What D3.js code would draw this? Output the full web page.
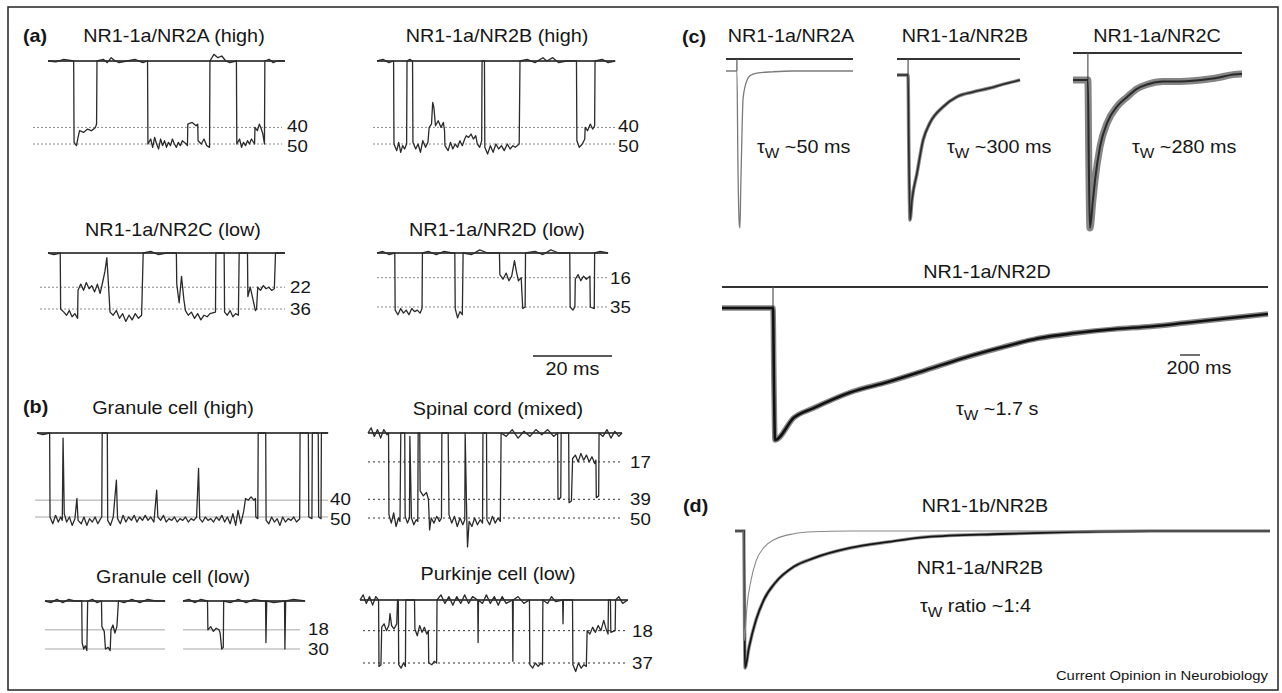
<!DOCTYPE html>
<html>
<head>
<meta charset="utf-8">
<script src="https://cdn.jsdelivr.net/npm/d3@7"></script>
<style>
  body { margin: 0; background: #fff; }
  text { font-family: "Liberation Sans", Arial, sans-serif; fill: #161616; }
</style>
</head>
<body>
<svg id="fig" width="1282" height="693"></svg>
<script>
// ---- single-channel records: [time ms, current pA] (openings drawn downward)
var aNR2A = [[0,0],[2,0.5],[4,-1],[6.5,0],[6.6,49],[7.2,51],[7.6,46],[8,42],[9,43],[10,41],[11,42],[12,40],[12.3,38],[12.4,0],[14,-1],[15,1],[16,-2],[17,0],[18,1],[20,0],[22,-1],[24,1],[25.2,0],[25.3,50],[26,47],[26.5,52],[27,46],[27.5,50],[28,53],[28.5,47],[29,51],[29.5,48],[30,52],[30.5,49],[31,51],[31.5,47],[32,50],[32.5,52],[33,49],[33.5,51],[34,48],[35,50],[35.3,51],[35.4,38],[36.5,37],[37.5,39],[37.9,38],[38,48],[38.8,50],[39.5,47],[40.2,51],[40.9,52],[41,0],[42,-4],[43,-2],[44,-3],[45,0],[46,1],[47.7,0],[47.8,50],[48.5,47],[49,52],[49.5,49],[50,51],[50.5,48],[51,50],[51.5,47],[52.3,50],[52.4,40],[53,42],[53.5,38],[54,41],[54.4,44],[54.8,50],[54.9,0],[56,-1],[57,1],[58,0],[60,0]];
var aNR2B = [[0,0],[1.5,-1],[3,1],[4.2,0],[4.3,50],[5,54],[5.5,49],[6,55],[6.5,51],[7,53],[7.5,50],[7.6,0],[8.3,-1],[9,0],[9.1,49],[9.8,53],[10.4,50],[11,55],[11.6,48],[12.3,52],[12.9,49],[13.2,40],[13.8,38],[14.1,25],[14.4,28],[14.8,39],[15.5,36],[16.2,40],[16.8,37],[17.1,42],[17.2,51],[18,54],[18.6,49],[19.2,53],[19.8,50],[20.4,52],[21,48],[21.6,51],[22.2,47],[22.6,45],[23.2,46],[23.8,44],[24.4,47],[25,45],[25.4,50],[26,52],[26.5,48],[26.6,0],[27.2,0],[27.3,52],[28,56],[28.7,51],[29.4,55],[30.1,50],[30.8,53],[31.5,51],[32.2,54],[33,50],[33.7,53],[34.4,51],[35,52],[36,50],[36.2,0],[38,-1],[40,1],[42,-2],[43,0],[44.5,-2],[46,1],[48,0],[50.5,0],[50.6,48],[51.2,52],[52,50],[52.6,47],[52.7,40],[53.3,42],[54,38],[54.6,41],[55.1,39],[55.2,0],[57,-1],[58.5,1],[60.3,0]];
var aNR2C = [[0,0],[1.5,1],[3.1,0],[3.2,36],[4,38],[4.7,40],[5.4,37],[6.1,41],[6.8,39],[7.5,42],[7.6,24],[8.3,20],[9,24],[9.7,19],[10.4,23],[11.1,21],[11.8,25],[12.5,20],[13.2,26],[13.9,18],[14.4,12],[14.9,3],[15.3,20],[15.7,38],[16.5,40],[17.3,37],[18.1,42],[18.9,39],[19.7,44],[20.5,40],[21.3,43],[22.1,39],[22.9,42],[23.7,40],[24.1,0],[26,-1],[28,1],[30,0],[32.5,0],[32.6,20],[33.2,32],[33.8,15],[34.4,30],[34.8,37],[35.5,40],[36.3,38],[37.1,42],[37.9,39],[38.7,43],[39.5,40],[40.3,41],[41,39],[42.4,38],[42.5,0],[44.6,0],[44.7,38],[45.4,40],[46.1,37],[46.8,41],[47.5,39],[48.2,40],[48.4,0],[50.5,0],[50.6,28],[51.2,22],[51.9,30],[52.5,37],[52.8,36],[53.1,22],[53.8,24],[54.5,21],[55.2,23],[55.9,22],[56.6,24],[57.3,23],[57.6,0],[60,0]];
var aNR2D = [[0,0],[1.5,-1],[3,1],[4.5,0],[4.6,37],[5.3,40],[6,36],[6.7,39],[7.4,37],[8.1,40],[8.8,36],[9.5,38],[10.2,37],[10.9,39],[11.4,36],[11.5,0],[13,-1],[15,1],[17,-1],[19,0],[19.7,0],[19.8,36],[20.4,42],[21,38],[21.6,40],[21.8,0],[24,1],[26,-2],[28,0],[31,0],[31.1,14],[31.9,17],[32.7,13],[33.4,18],[34.1,15],[34.8,5],[35.3,12],[35.8,18],[36.5,16],[36.9,36],[37.5,35],[37.6,0],[40,-1],[42,1],[44,-2],[46,0],[48.8,0],[48.9,35],[49.6,37],[50.1,35],[50.2,17],[50.9,14],[51.6,18],[52.3,15],[53,17],[53.9,15],[54,35],[55,36],[55.1,0],[56.5,-1],[58.5,0]];
var bGranHigh = [[0,0],[1.5,1],[3.2,0],[3.3,50],[4,54],[4.7,49],[5.4,53],[6,50],[6.4,52],[6.6,3],[6.9,48],[7.5,53],[8.2,50],[8.9,55],[9.6,51],[10.1,39],[10.4,52],[11.2,54],[11.9,50],[12.6,55],[13.3,51],[14,53],[14.7,50],[15.4,54],[16.1,51],[16.4,50],[16.5,0],[17.8,0],[17.9,52],[18.6,55],[19.3,50],[20.1,28],[20.4,51],[21.1,54],[21.8,49],[22.5,53],[23.2,50],[23.9,52],[24.6,49],[25.3,53],[26,50],[26.7,52],[27.4,49],[28.1,52],[28.8,50],[29.6,53],[30.3,34],[30.6,50],[31.3,52],[32,49],[32.7,53],[33.4,51],[34.1,52],[34.8,50],[35.5,53],[36.2,51],[36.9,52],[37.6,50],[38.3,53],[39,51],[39.7,52],[40.4,50],[40.9,21],[41.2,51],[41.9,53],[42.6,50],[43.3,52],[44,51],[44.7,53],[45.4,50],[46.1,52],[46.8,49],[47.5,53],[48.2,50],[48.9,54],[49.6,48],[50.3,55],[50.9,46],[51.6,54],[52.3,47],[52.8,39],[53.5,40],[54.2,38],[54.9,40],[55.3,39],[55.4,50],[55.9,51],[56,0],[57.9,0],[58,52],[58.7,54],[59.4,50],[60.1,53],[60.8,51],[61.5,55],[62.2,50],[62.9,53],[63.6,51],[64.3,52],[65,50],[65.7,53],[66.5,51],[66.6,0],[68.7,0],[68.8,50],[69.6,51],[69.7,0],[71.2,0],[71.3,50],[71.9,51],[72,0],[73.7,0]];
var bGranLow1 = [[0,0],[1.5,1],[3,-1],[4.5,1],[6,-1],[7.5,0],[9.3,0],[9.4,26],[9.8,30],[10.2,28],[10.6,31],[10.8,0],[12,-1],[13.2,1],[14.3,0],[14.4,16],[15,19],[15.3,30],[16,29],[16.5,31],[16.7,18],[17.2,15],[17.7,20],[18.2,16],[18.6,0],[20,1],[22,-1],[24,1],[26,-1],[28,0],[30.4,0]];
var bGranLow2 = [[0,0],[1.5,-1],[3,1],[4.5,-1],[6.2,0],[6.3,18],[7,16],[7.7,19],[8.4,17],[9.1,18],[9.4,20],[9.8,30],[10.2,29],[10.3,0],[12,1],[14,-1],[16,1],[18,-1],[20,0],[20.9,0],[21,26],[21.2,0],[23,1],[25.7,0],[25.8,30],[26,0],[28,-1],[30.9,0]];
var bSpinal = [[0,0],[0.8,-3],[1.6,2],[2.4,-2],[3.2,3],[4,-2],[4.8,1],[5.2,0],[5.3,48],[5.9,53],[6.5,47],[7.1,55],[7.7,50],[8.1,52],[8.3,0],[9.3,0],[9.4,49],[10,53],[10.5,50],[10.6,2],[11,50],[11.6,54],[12.2,51],[12.6,52],[12.7,0],[13.1,0],[13.2,34],[14,37],[14.8,35],[15.3,39],[15.6,57],[16,50],[16.7,53],[17.4,49],[18.1,52],[18.6,50],[18.7,0],[20.3,0],[20.5,48],[21.2,53],[21.9,49],[22.6,55],[23.3,50],[24,54],[24.5,51],[24.6,0],[25,50],[25.2,67],[25.6,52],[26.3,55],[27,50],[27.7,54],[28.4,51],[29,53],[29.1,0],[30,0],[30.1,51],[30.8,54],[31.5,49],[32.2,53],[32.9,50],[33.5,52],[33.7,0],[35,2],[36.5,-2],[38,3],[39.5,-1],[41,2],[42.5,-2],[44,1],[45.5,-2],[47,2],[48,0],[48.1,39],[48.8,38],[48.9,0],[50.8,0],[50.9,41],[51.5,40],[51.8,15],[52.5,13],[53.2,17],[53.9,12],[54.6,16],[55.3,13],[56,17],[56.7,14],[57.4,18],[57.7,16],[57.8,38],[58.4,37],[58.5,0],[59.5,2],[60.5,-2],[61.5,3],[62.5,-1],[63.5,2],[64.3,0]];
var bPurkinje = [[0,0],[0.8,-3],[1.6,2],[2.4,-2],[3.2,3],[4,-2],[4.7,0],[4.8,39],[5.3,38],[5.5,16],[6.1,14],[6.7,18],[7.3,15],[7.6,8],[8,15],[8.6,17],[9.3,14],[9.5,0],[9.7,0],[9.8,38],[10.4,40],[11,37],[11.5,39],[11.6,0],[13.8,0],[13.9,17],[14.5,21],[15.1,15],[15.7,19],[16.3,16],[16.9,20],[17.3,18],[17.4,37],[18.2,38],[18.8,36],[19.4,37],[19.5,0],[20.5,-3],[21.5,2],[22.5,-2],[23.5,3],[24.5,-2],[25.5,2],[26.5,-3],[27.5,2],[28.5,-2],[29.8,0],[29.9,25],[30,0],[31,2],[32,-3],[33,2],[34,-2],[35,3],[36,-2],[37,2],[38.6,0],[38.7,36],[38.8,0],[40,-2],[41.5,2],[42.9,0],[43,38],[43.7,40],[44.4,37],[45.1,39],[45.8,37],[46.2,38],[46.3,0],[47.5,2],[48.5,-2],[49.5,1],[51.3,0],[51.4,14],[51.5,0],[53.8,0],[53.9,38],[54.6,42],[55.3,37],[56,40],[56.7,38],[57.3,39],[57.5,18],[58.2,20],[58.9,16],[59.6,19],[60.3,15],[61,18],[61.7,12],[62.3,17],[62.8,20],[62.9,0],[63.4,0],[63.5,19],[64.6,18],[64.7,0],[65.5,-2],[66.5,2],[67.8,0]];

// conductance levels (pA)
var levNR2A = [40, 50], levNR2B = [40, 50], levNR2C = [22, 36], levNR2D = [16, 35];
var levGranHigh = [40, 50], levGranLow = [18, 30], levSpinal = [17, 39, 50], levPurkinje = [18, 37];

// ---- macroscopic responses: [time ms, normalised current]
var cNR2A = [[0,0],[43,0],[47,-0.6],[52,-0.97],[55,-1],[58,-0.75],[63,-0.39],[67,-0.18],[75,-0.1],[83,-0.057],[94,-0.03],[122,-0.013],[185,-0.005],[260,0],[500,0]];
var cNR2B = [[0,0],[40,0],[45,0],[48,-0.5],[53,-1],[61,-0.86],[81,-0.68],[106,-0.45],[134,-0.33],[187,-0.22],[244,-0.15],[309,-0.117],[378,-0.09],[419,-0.07],[500,-0.035]];
var cNR2C = [[0,0],[44,0],[47,-0.6],[50,-1],[59,-0.81],[65,-0.68],[80,-0.45],[101,-0.29],[130,-0.18],[160,-0.115],[189,-0.06],[219,-0.03],[266,-0.01],[317,-0.01],[414,0.01],[494,0.04],[500,0.04]];
var cNR2D = [[0,0],[500,0],[510,0],[520,-0.6],[530,-1],[720,-0.83],[910,-0.76],[1280,-0.64],[1660,-0.56],[2040,-0.47],[2410,-0.38],[2790,-0.3],[3160,-0.23],[3540,-0.19],[3920,-0.16],[4290,-0.14],[4670,-0.11],[5040,-0.08],[5460,-0.045]];
var dNR1b = [[0,0],[44,0],[46,-0.8],[50,-0.75],[60,-0.55],[80,-0.36],[105,-0.22],[145,-0.12],[200,-0.06],[295,-0.02],[390,-0.006],[575,0],[2675,0]];
var dNR1a = [[0,0],[44,0],[48,-0.7],[50,-1],[70,-0.85],[105,-0.65],[145,-0.5],[200,-0.38],[295,-0.26],[390,-0.2],[575,-0.124],[765,-0.08],[955,-0.044],[1330,-0.022],[1705,-0.007],[2080,0],[2675,0]];
var stimTimes = [43, 45, 44, 510];
var tauLabels = ["~50 ms", "~300 ms", "~280 ms", "~1.7 s"];
var scaleBarsMs = [20, 200];

var svg = d3.select("#fig");
var K = 3.95; // px per ms for the single-channel sweeps

svg.append("rect").attr("width", 1282).attr("height", 693).attr("fill", "#fff");
svg.append("rect").attr("x", 8).attr("y", 7).attr("width", 1270).attr("height", 683)
   .attr("fill", "none").attr("stroke", "#222").attr("stroke-width", 1.5);

function label(x, y, s, anchor, size, weight) {
    return svg.append("text")
        .attr("transform", "translate(" + x + "," + y + ") scale(1.1,1)")
        .attr("text-anchor", anchor || "start")
        .style("font-size", (size || 18) + "px")
        .style("font-weight", weight || "normal")
        .text(s);
}
function tauLabel(x, y, s) {
    var t = svg.append("text")
        .attr("transform", "translate(" + x + "," + y + ") scale(1.1,1)")
        .style("font-size", "18px");
    t.append("tspan").text("τ");
    t.append("tspan").attr("dy", 5).style("font-size", "14px").text("W");
    t.append("tspan").attr("dy", -5).text(" " + s);
    return t;
}

var levStyle = {
    a: { stroke: "#8a8a8a", dash: "2,2", w: 1 },
    g: { stroke: "#c4c4c4", dash: null, w: 1.6 },
    k: { stroke: "#333", dash: "2,3", w: 1 }
};

var chan = [
    { title: "NR1-1a/NR2A (high)", tx: 174, ty: 42, lev: levNR2A, y0: 61, yMax: 144, lx: [[33, 282]], labX: 287, st: "a", segs: [{ d: aNR2A, x0: 48 }] },
    { title: "NR1-1a/NR2B (high)", tx: 497, ty: 42, lev: levNR2B, y0: 61, yMax: 144, lx: [[373, 617]], labX: 618, st: "a", segs: [{ d: aNR2B, x0: 377 }] },
    { title: "NR1-1a/NR2C (low)", tx: 173, ty: 236, lev: levNR2C, y0: 253, yMax: 309, lx: [[40, 285]], labX: 290, st: "a", segs: [{ d: aNR2C, x0: 48 }] },
    { title: "NR1-1a/NR2D (low)", tx: 497, ty: 236, lev: levNR2D, y0: 253, yMax: 307, lx: [[377, 607]], labX: 610, st: "a", segs: [{ d: aNR2D, x0: 377 }] },
    { title: "Granule cell (high)", tx: 173, ty: 414, lev: levGranHigh, y0: 433, yMax: 517, lx: [[35, 328]], labX: 330, st: "g", segs: [{ d: bGranHigh, x0: 37 }] },
    { title: "Granule cell (low)", tx: 173, ty: 583, lev: levGranLow, y0: 601, yMax: 649, lx: [[45, 165], [183, 300]], labX: 308, st: "g", segs: [{ d: bGranLow1, x0: 45 }, { d: bGranLow2, x0: 183 }] },
    { title: "Spinal cord (mixed)", tx: 498, ty: 415, lev: levSpinal, y0: 433, yMax: 518, lx: [[368, 620]], labX: 630, st: "k", segs: [{ d: bSpinal, x0: 368 }] },
    { title: "Purkinje cell (low)", tx: 498, ty: 580, lev: levPurkinje, y0: 600, yMax: 663, lx: [[363, 627]], labX: 632, st: "k", segs: [{ d: bPurkinje, x0: 360 }] }
];

var LAB_GAP = 20;
chan.forEach(function (p) {
    var y = d3.scaleLinear().domain([0, p.lev[p.lev.length - 1]]).range([p.y0, p.yMax]);
    var ls = levStyle[p.st];
    // keep the level numbers from colliding when two levels sit close together
    var ly = p.lev.map(function (l) { return y(l); });
    for (var i = 1; i < ly.length; i++) {
        if (ly[i] - ly[i - 1] < LAB_GAP) {
            var mid = (ly[i] + ly[i - 1]) / 2;
            ly[i - 1] = mid - LAB_GAP / 2;
            ly[i] = mid + LAB_GAP / 2;
        }
    }
    p.lev.forEach(function (l, i) {
        p.lx.forEach(function (r) {
            svg.append("line").attr("x1", r[0]).attr("x2", r[1]).attr("y1", y(l)).attr("y2", y(l))
                .attr("stroke", ls.stroke).attr("stroke-width", ls.w).attr("stroke-dasharray", ls.dash);
        });
        label(p.labX, ly[i] + 6, l, "start", 17);
    });
    label(p.tx, p.ty, p.title, "middle");
    p.segs.forEach(function (s) {
        var tEnd = s.d[s.d.length - 1][0];
        var x = d3.scaleLinear().domain([0, tEnd]).range([s.x0, s.x0 + tEnd * K]);
        svg.append("line").attr("x1", x(0)).attr("x2", x(tEnd)).attr("y1", y(0)).attr("y2", y(0))
            .attr("stroke", "#111").attr("stroke-width", 1.6);
        var line = d3.line().x(function (d) { return x(d[0]); }).y(function (d) { return y(d[1]); });
        svg.append("path").datum(s.d).attr("d", line)
            .attr("fill", "none").attr("stroke", "#2b2b2b").attr("stroke-width", 1.3)
            .attr("stroke-linejoin", "round");
    });
});

label(23, 42, "(a)", "start", 18, "bold");
label(23, 413, "(b)", "start", 18, "bold");
label(682, 43, "(c)", "start", 18, "bold");
label(683, 512, "(d)", "start", 18, "bold");

// 20 ms bar, same time base as the sweeps in (a)
var bar20 = d3.scaleLinear().domain([0, scaleBarsMs[0]]).range([533, 533 + scaleBarsMs[0] * K]);
svg.append("line").attr("x1", bar20(0)).attr("x2", bar20(scaleBarsMs[0])).attr("y1", 356).attr("y2", 356)
    .attr("stroke", "#222").attr("stroke-width", 1.3);
label((bar20(0) + bar20(scaleBarsMs[0])) / 2, 375, scaleBarsMs[0] + " ms", "middle");

// ---- (c) macroscopic responses
var decay = [
    { title: "NR1-1a/NR2A", tx: 791, ty: 42, d: cNR2A, x0: 726, x1: 853, tmax: 500, yZ: 71, yP: 228, barY: 59, tauX: 757, tauY: 153, color: "#7a7a7a", w: 1.3, halo: 0 },
    { title: "NR1-1a/NR2B", tx: 965, ty: 42, d: cNR2B, x0: 897, x1: 1020, tmax: 500, yZ: 75, yP: 220, barY: 59, tauX: 947, tauY: 153, color: "#2a2a2a", w: 1.6, halo: 3.5 },
    { title: "NR1-1a/NR2C", tx: 1157, ty: 42, d: cNR2C, x0: 1073, x1: 1242, tmax: 500, yZ: 80, yP: 228, barY: 53, tauX: 1132, tauY: 153, color: "#2a2a2a", w: 2, halo: 7 },
    { title: "NR1-1a/NR2D", tx: 987, ty: 278, d: cNR2D, x0: 722, x1: 1268, tmax: 5460, yZ: 308, yP: 440, barY: 287, tauX: 956, tauY: 415, color: "#111", w: 2.6, halo: 5.5 }
];

decay.forEach(function (p, i) {
    var x = d3.scaleLinear().domain([0, p.tmax]).range([p.x0, p.x1]);
    var y = d3.scaleLinear().domain([0, -1]).range([p.yZ, p.yP]);
    label(p.tx, p.ty, p.title, "middle");
    svg.append("line").attr("x1", p.x0).attr("x2", p.x1).attr("y1", p.barY).attr("y2", p.barY)
        .attr("stroke", "#333").attr("stroke-width", 2);
    svg.append("line").attr("x1", x(stimTimes[i])).attr("x2", x(stimTimes[i]))
        .attr("y1", p.barY).attr("y2", p.yZ).attr("stroke", "#555").attr("stroke-width", 1.2);
    var line = d3.line().x(function (d) { return x(d[0]); }).y(function (d) { return y(d[1]); })
        .curve(d3.curveMonotoneX);
    if (p.halo) {
        // recording noise band
        svg.append("path").datum(p.d).attr("d", line).attr("fill", "none")
            .attr("stroke", "#333").attr("stroke-opacity", 0.6).attr("stroke-width", p.halo)
            .attr("stroke-linejoin", "round");
    }
    svg.append("path").datum(p.d).attr("d", line).attr("fill", "none")
        .attr("stroke", p.color).attr("stroke-width", p.w);
    tauLabel(p.tauX, p.tauY, tauLabels[i]);
});

// 200 ms bar on the NR2D time base
var xD = d3.scaleLinear().domain([0, decay[3].tmax]).range([decay[3].x0, decay[3].x1]);
svg.append("line").attr("x1", xD(4580)).attr("x2", xD(4580 + scaleBarsMs[1])).attr("y1", 355).attr("y2", 355)
    .attr("stroke", "#222").attr("stroke-width", 1.3);
label(1199, 374, scaleBarsMs[1] + " ms", "middle");

// ---- (d) NR1-1b vs NR1-1a with NR2B
var xd = d3.scaleLinear().domain([0, 2675]).range([735, 1270]);
var yd = d3.scaleLinear().domain([0, -1]).range([531, 668]);
var lineD = d3.line().x(function (d) { return xd(d[0]); }).y(function (d) { return yd(d[1]); }).curve(d3.curveMonotoneX);
svg.append("path").datum(dNR1a).attr("d", lineD).attr("fill", "none").attr("stroke", "#333").attr("stroke-opacity", 0.5)
    .attr("stroke-width", 3.5);
svg.append("path").datum(dNR1a).attr("d", lineD).attr("fill", "none").attr("stroke", "#151515").attr("stroke-width", 1.8);
svg.append("path").datum(dNR1b).attr("d", lineD).attr("fill", "none").attr("stroke", "#888").attr("stroke-width", 1.1);
label(985, 512, "NR1-1b/NR2B", "middle");
label(980, 574, "NR1-1a/NR2B", "middle");
tauLabel(920, 612, "ratio ~1:4");
label(1268, 680, "Current Opinion in Neurobiology", "end", 13.5);
</script>
</body>
</html>
